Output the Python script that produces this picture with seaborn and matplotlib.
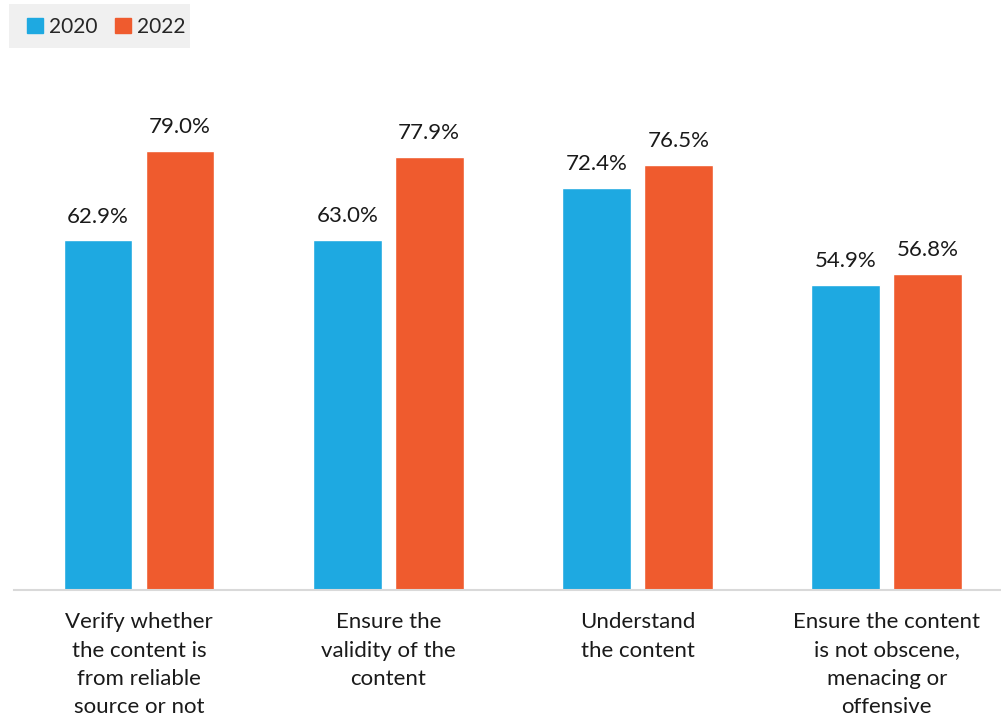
import matplotlib
matplotlib.use("Agg")
import matplotlib.pyplot as plt
from matplotlib.patches import Rectangle
import seaborn as sns
import pandas as pd

categories = [
    "Verify whether\nthe content is\nfrom reliable\nsource or not",
    "Ensure the\nvalidity of the\ncontent",
    "Understand\nthe content",
    "Ensure the content\nis not obscene,\nmenacing or\noffensive",
]
years = ["2020", "2022"]
values_2020 = [62.9, 63.0, 72.4, 54.9]
values_2022 = [79.0, 77.9, 76.5, 56.8]
colors = ["#1EA9E1", "#EF5B2E"]

df = pd.DataFrame({
    "category": categories * 2,
    "year": [years[0]] * 4 + [years[1]] * 4,
    "value": values_2020 + values_2022,
})

sns.set_theme(style="white")
plt.rcParams["font.family"] = ["Lato", "DejaVu Sans"]

W, H = 1001, 721
fig = plt.figure(figsize=(W / 100, H / 100), dpi=100)
ax = fig.add_axes([0.0144, 0.1817, 0.996, 0.7707])

sns.barplot(data=df, x="category", y="value", hue="year", palette=colors,
            width=0.657, gap=0.16, ax=ax, legend=False, saturation=1)

ax.set_ylim(0, 100)
ax.set_xlim(-0.5, 3.5)
for c in ax.containers:
    labels = [f"{v:.1f}%" for v in c.datavalues]
    ax.bar_label(c, labels=labels, padding=10, fontsize=16, color="#1a1a1a")

for s in ["top", "right", "left"]:
    ax.spines[s].set_visible(False)
ax.spines["bottom"].set_color("#d9d9d9")
ax.spines["bottom"].set_linewidth(1.5)
ax.set_yticks([])
ax.set_xlabel("")
ax.set_ylabel("")
ax.tick_params(axis="x", length=0, pad=16, labelsize=16, labelcolor="#1a1a1a")
for t in ax.get_xticklabels():
    t.set_linespacing(1.52)
    t.set_verticalalignment("top")

# light gray panel behind the legend
fig.patches.append(Rectangle((9 / W, 1 - 48 / H), 181 / W, 44 / H,
                             transform=fig.transFigure, facecolor="#f0f0f0",
                             edgecolor="none", zorder=0))
handles = [Rectangle((0, 0), 1, 1, color=c) for c in colors]
fig.legend(handles, years, loc="upper left",
           bbox_to_anchor=(27 / W, 1 - 17 / H), borderaxespad=0, borderpad=0,
           ncol=2, frameon=False, fontsize=15, handlelength=0.75,
           handleheight=0.75, handletextpad=0.3, columnspacing=0.85)

fig.savefig("out.png", dpi=100)
